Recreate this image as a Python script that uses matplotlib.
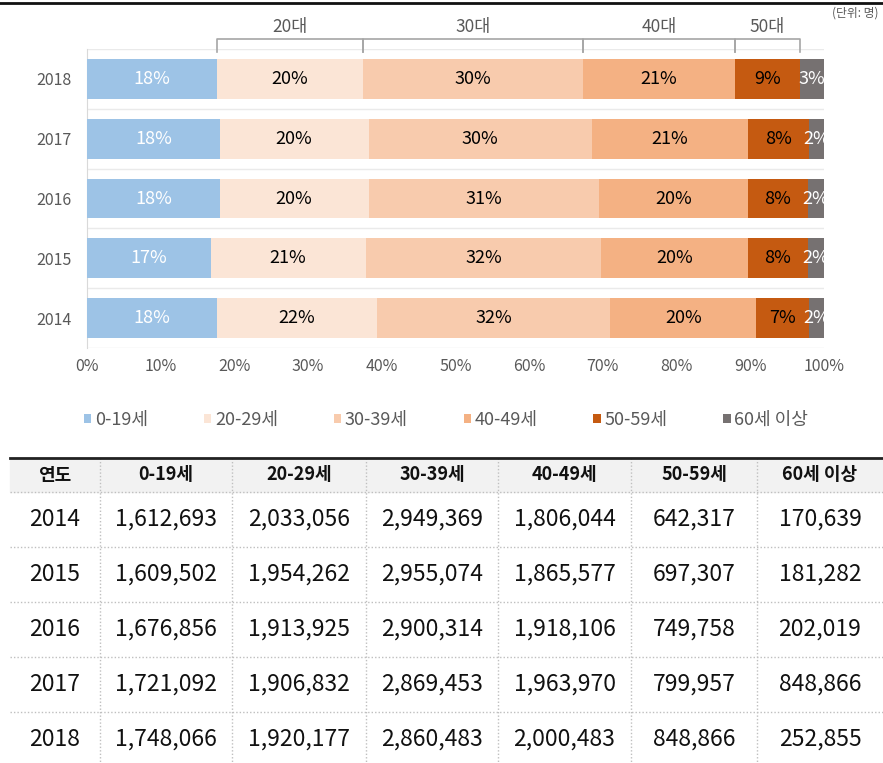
import matplotlib.pyplot as plt
import numpy as np

plt.rcParams['font.family'] = ['Noto Sans CJK KR', 'DejaVu Sans']

# 막대 비율 (%), 2014 -> 2018
years = ['2014', '2015', '2016', '2017', '2018']
groups = ['0-19세', '20-29세', '30-39세', '40-49세', '50-59세', '60세 이상']
s_0_19 = [17.6, 16.8, 18.0, 18.0, 17.6]
s_20_29 = [21.8, 21.0, 20.2, 20.2, 19.8]
s_30_39 = [31.6, 32.0, 31.3, 30.3, 29.9]
s_40_49 = [19.8, 19.9, 20.2, 21.2, 20.6]
s_50_59 = [7.2, 8.1, 8.1, 8.3, 8.8]
s_60 = [2.0, 2.2, 2.2, 2.0, 3.3]
shares = [s_0_19, s_20_29, s_30_39, s_40_49, s_50_59, s_60]
colors = ['#9DC3E6', '#FBE5D6', '#F8CBAD', '#F4B183', '#C55A11', '#767171']
label_colors = ['white', 'black', 'black', 'black', 'black', 'white']
decades = ['20대', '30대', '40대', '50대']

# 표 데이터
tbl_header = ['연도', '0-19세', '20-29세', '30-39세', '40-49세', '50-59세', '60세 이상']
tbl_years = ['2014', '2015', '2016', '2017', '2018']
c_0_19 = ['1,612,693', '1,609,502', '1,676,856', '1,721,092', '1,748,066']
c_20_29 = ['2,033,056', '1,954,262', '1,913,925', '1,906,832', '1,920,177']
c_30_39 = ['2,949,369', '2,955,074', '2,900,314', '2,869,453', '2,860,483']
c_40_49 = ['1,806,044', '1,865,577', '1,918,106', '1,963,970', '2,000,483']
c_50_59 = ['642,317', '697,307', '749,758', '799,957', '848,866']
c_60 = ['170,639', '181,282', '202,019', '848,866', '252,855']

W, H = 883, 763
fig = plt.figure(figsize=(W / 100, H / 100), dpi=100)

# 막대 차트
ax = fig.add_axes([87 / W, 1 - 348 / H, 737 / W, 299 / H])
y = np.arange(len(years))
left = np.zeros(len(years))
for i, vals in enumerate(shares):
    vals = np.array(vals)
    ax.barh(y, vals, left=left, height=0.667, color=colors[i], label=groups[i], zorder=3)
    for j in range(len(years)):
        ax.text(left[j] + vals[j] / 2, y[j], f'{vals[j]:.0f}%', ha='center', va='center',
                fontsize=13, color=label_colors[i], zorder=4, clip_on=True)
    left = left + vals

ax.set_xlim(0, 100)
ax.set_ylim(-0.5, len(years) - 0.5)
ax.set_yticks(y)
ax.set_yticklabels(years, fontsize=11.5, color='#595959')
ax.set_xticks(np.arange(0, 101, 10))
ax.set_xticklabels([f'{v}%' for v in range(0, 101, 10)], fontsize=11.5, color='#595959')
ax.tick_params(length=0)
ax.tick_params(axis='x', pad=7)
ax.tick_params(axis='y', pad=11)
ax.set_yticks(np.arange(-0.5, len(years)), minor=True)
ax.tick_params(which='minor', length=0)
ax.grid(which='minor', axis='y', color='#EAEAEA', linewidth=1, zorder=0)
for s in ['top', 'right', 'bottom']:
    ax.spines[s].set_visible(False)
ax.spines['left'].set_color('#D9D9D9')

# 연령대 괄호 (2018 막대 기준)
last = len(years) - 1
cum = np.cumsum([0] + [s[last] for s in shares])
trans = ax.get_xaxis_transform()
for k, name in enumerate(decades):
    x0, x1 = cum[k + 1], cum[k + 2]
    ax.plot([x0, x0, x1, x1], [0.99, 1.033, 1.033, 0.99], color='#A6A6A6',
            linewidth=1.2, transform=trans, clip_on=False)
    ax.text((x0 + x1) / 2, 1.072, name, ha='center', va='center', fontsize=12.5,
            color='#595959', transform=trans)

leg = ax.legend(loc='center left', bbox_to_anchor=(-0.0135, -0.24), ncol=6, frameon=False,
                fontsize=13, handlelength=0.4, handleheight=0.4, handletextpad=0.2,
                columnspacing=3.1, borderaxespad=0)
for t in leg.get_texts():
    t.set_color('#595959')

# 표
tb = fig.add_axes([0, 0, 1, 1])
tb.set_xlim(0, W)
tb.set_ylim(H, 0)
tb.axis('off')

col_edges = [10, 100, 232, 366, 498, 631, 757, 883]
row_top = 458
head_h = 34
row_h = 55
n_rows = len(tbl_years)

tb.add_patch(plt.Rectangle((col_edges[0], row_top), col_edges[-1] - col_edges[0], head_h,
                           color='#F2F2F2', zorder=1))
tb.plot([col_edges[0], col_edges[-1]], [row_top, row_top], color='#222222', linewidth=2, zorder=3)
for r in range(n_rows):
    yy = row_top + head_h + r * row_h
    tb.plot([col_edges[0], col_edges[-1]], [yy, yy], color='#BFBFBF', linewidth=1,
            linestyle=(0, (1, 1.5)), zorder=2)
for x in col_edges[1:-1]:
    tb.plot([x, x], [row_top, H], color='#BFBFBF', linewidth=1,
            linestyle=(0, (1, 1.5)), zorder=2)

centers = [(col_edges[i] + col_edges[i + 1]) / 2 for i in range(len(col_edges) - 1)]
for i, h in enumerate(tbl_header):
    tb.text(centers[i], row_top + head_h / 2, h, ha='center', va='center', fontsize=13,
            fontweight='bold', color='#111111', zorder=4)

columns = [tbl_years, c_0_19, c_20_29, c_30_39, c_40_49, c_50_59, c_60]
for r in range(n_rows):
    yc = row_top + head_h + r * row_h + row_h / 2
    for i, col in enumerate(columns):
        tb.text(centers[i], yc, col[r], ha='center', va='center', fontsize=16.5,
                color='#111111', zorder=4)

# 상단 선과 단위 표기
tb.plot([0, W], [3, 3], color='#111111', linewidth=2, zorder=3)
tb.text(878, 7, '(단위: 명)', ha='right', va='top', fontsize=8.5, color='#595959')

fig.savefig('out.png', dpi=100)
